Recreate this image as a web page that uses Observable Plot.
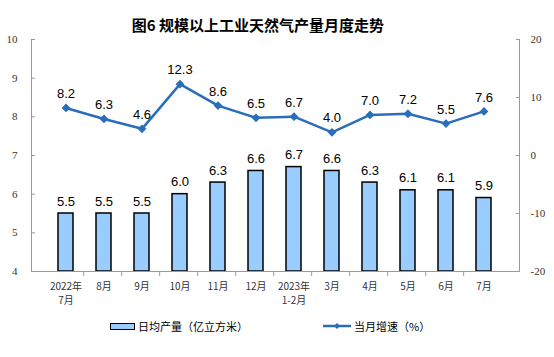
<!DOCTYPE html>
<html><head><meta charset="utf-8">
<script src="https://cdn.jsdelivr.net/npm/d3@7"></script>
<script src="https://cdn.jsdelivr.net/npm/@observablehq/plot@0.6"></script>
<style>
body{margin:0;background:#fff;width:554px;height:357px;overflow:hidden;font-family:"Noto Sans CJK SC",sans-serif;}
#title{height:32px;box-sizing:border-box;padding-top:16px;width:516px;text-align:center;font:bold 15px/18px "Noto Sans CJK SC",sans-serif;color:#000;white-space:pre;}
#legend{position:relative;height:45px;font:11px "Noto Sans CJK SC",sans-serif;color:#000;}
.item{position:absolute;top:7px;display:flex;align-items:center;height:14px;}
</style>
</head><body>
<div id="title">图6 规模以上工业天然气产量月度走势</div>
<div id="chart"></div>
<div id="legend">
  <div class="item" style="left:110px"><span style="display:inline-block;width:23px;height:5px;background:#99ccff;border:1.5px solid #000;margin-right:3px"></span>日均产量（亿立方米）</div>
  <div class="item" style="left:323px"><svg width="28" height="10" style="margin-right:3px"><line x1="0" y1="5" x2="28" y2="5" stroke="#2a6ebb" stroke-width="2.5"/><path d="M14,2L17,5L14,8L11,5Z" fill="#2a6ebb"/></svg>当月增速（%）</div>
</div>
<script>
const months = ["2022年\n7月","8月","9月","10月","11月","12月","2023年\n1-2月","3月","4月","5月","6月","7月"];
const output = [5.5,5.5,5.5,6.0,6.3,6.6,6.7,6.6,6.3,6.1,6.1,5.9];
const growth = [8.2,6.3,4.6,12.3,8.6,6.5,6.7,4.0,7.0,7.2,5.5,7.6];
const leftTicks = [4,5,6,7,8,9,10];
const rightTicks = [-20,-10,0,10,20];

// right axis (-20..20) mapped onto left axis (4..10)
const toLeft = v => 7 + v * 0.15;
const fromLeft = d => Math.round((d - 7) / 0.15);

const data = months.map((m, i) => ({m, out: output[i], g: growth[i], gy: toLeft(growth[i])}));

const W = 554, H = 280, mL = 31, mR = 35;
const step = (W - mL - mR) / months.length;

const plot = Plot.plot({
  width: W, height: H,
  marginTop: 7, marginBottom: 41, marginLeft: mL, marginRight: mR,
  style: {background: "#fff", overflow: "visible"},
  x: {type: "band", domain: months, padding: 0.6, label: null},
  y: {domain: [4, 10], label: null},
  marks: [
    Plot.barY(data, {x: "m", y1: 4, y2: "out", fill: "#99ccff", stroke: "#000", strokeWidth: 1.5}),
    Plot.ruleY([4], {stroke: "#999", strokeWidth: 1}),
    Plot.ruleX(months.slice(1), {x: d => d, y1: 4, y2: 3.87, dx: -step / 2, stroke: "#999"}),
    Plot.line(data, {x: "m", y: "gy", stroke: "#2a6ebb", strokeWidth: 2.5}),
    Plot.dot(data, {x: "m", y: "gy", symbol: "diamond2", r: 3, fill: "#2a6ebb", stroke: "#2a6ebb"}),
    Plot.text(data, {x: "m", y: "out", text: d => d.out.toFixed(1), dy: -12, fontSize: 13, fontFamily: "Liberation Sans, Arial, sans-serif", fill: "#000"}),
    Plot.text(data, {x: "m", y: "gy", text: d => d.g.toFixed(1), dy: -14, fontSize: 13, fontFamily: "Liberation Sans, Arial, sans-serif", fill: "#000"}),
    Plot.frame({anchor: "left", stroke: "#999"}),
    Plot.frame({anchor: "right", stroke: "#999"}),
    Plot.axisY(leftTicks, {anchor: "left", tickSize: -4, stroke: "#999", tickFormat: () => "", label: null}),
    Plot.axisY(rightTicks.map(toLeft), {anchor: "right", tickSize: -4, stroke: "#999", tickFormat: () => "", label: null}),
    Plot.axisY(leftTicks, {anchor: "left", tickSize: 0, tickPadding: 14, fontSize: 11, fontFamily: "Liberation Serif, serif", fill: "#333", label: null}),
    Plot.axisY(rightTicks.map(toLeft), {anchor: "right", tickSize: 0, tickPadding: 11, tickFormat: d => String(fromLeft(d)), fontSize: 11, fontFamily: "Liberation Serif, serif", fill: "#333", label: null}),
    Plot.axisX({anchor: "bottom", tickSize: 0, tickPadding: 9, fontSize: 10, lineHeight: 1.35, fontFamily: "Noto Sans CJK SC, sans-serif", fill: "#333", label: null})
  ]
});
document.getElementById("chart").appendChild(plot);
</script>
</body></html>
